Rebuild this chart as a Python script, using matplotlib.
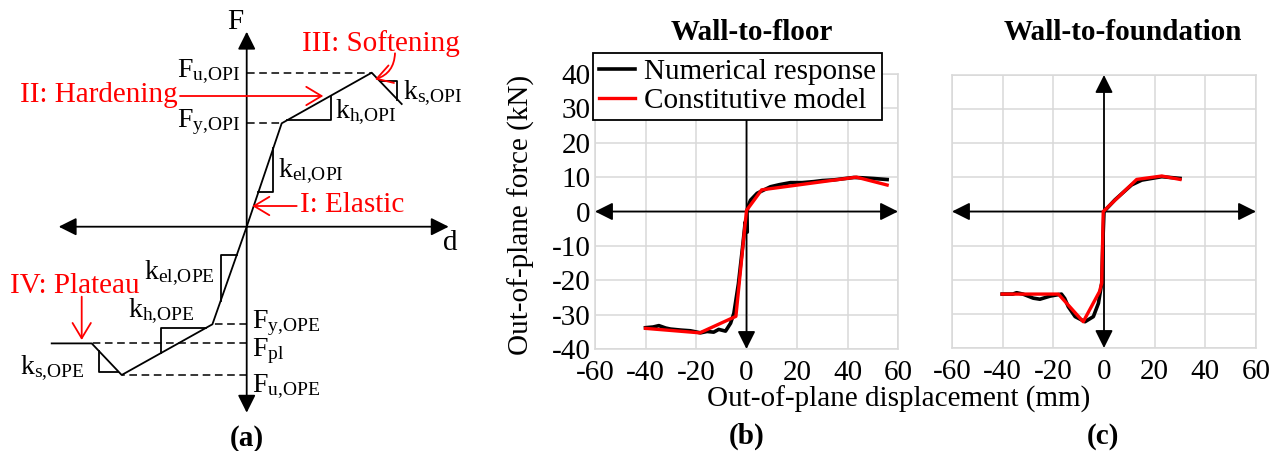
import numpy as np
import matplotlib
matplotlib.use("Agg")
import matplotlib.pyplot as plt

plt.rcParams['font.family'] = ['Liberation Serif', 'DejaVu Serif']
plt.rcParams['mathtext.fontset'] = 'custom'
plt.rcParams['mathtext.rm'] = 'Liberation Serif'
plt.rcParams['mathtext.it'] = 'Liberation Serif:italic'
plt.rcParams['mathtext.bf'] = 'Liberation Serif:bold'

# (a) schematic backbone (arbitrary units, origin at axes cross)
backbone_d = [-195, -155, -125, -34.3, 0, 35, 125, 155]
backbone_f = [-116.7, -116.7, -148.3, -97.6, 0, 103.4, 154, 122.7]

# (b) wall-to-floor
floor_num_x = [-40, -37, -34.7, -32, -30.1, -26, -22.2, -18.2, -15.6, -13, -11, -8.3, -6.3, -5,
               -3.2, -1.5, -0.5, 0.3, 0.2, 0.6, 1.6, 4.2, 9.5, 13, 17.4, 22, 26.7, 30, 34.6,
               38, 42.5, 46, 50.4, 55.7]
floor_num_y = [-33.8, -33.6, -33.2, -33.9, -34.2, -34.5, -34.7, -35.3, -34.9, -35.1, -34.3, -34.8, -32.5, -29.6,
               -21, -10, -3, -6, 0, 1.5, 3.3, 5.3, 7.2, 7.8, 8.4, 8.4, 8.7, 9.0, 9.2,
               9.5, 9.9, 9.8, 9.6, 9.3]
floor_mod_x = [-40, -18.5, -4.2, 0, 6, 43.5, 55.7]
floor_mod_y = [-34, -35.3, -30.5, 0.3, 6.3, 10, 7.7]

# (c) wall-to-foundation
found_num_x = [-40.2, -36, -34.5, -32, -27.9, -25.3, -21.3, -16.8, -15.5, -14.1, -11.4, -7.5, -4.2, -2.2,
               -0.9, -0.4, 0, 4.3, 10.9, 14.9, 22.8, 30]
found_num_y = [-24.2, -24.2, -23.8, -24.2, -25.4, -25.7, -24.8, -24.2, -25.5, -27.9, -30.8, -32.3, -30.8, -26.9,
               -21, -8, 0, 3.4, 7.8, 9.2, 10.2, 9.7]
found_mod_x = [-40.2, -18, -8.2, -1.8, -0.9, -0.3, 12.9, 22.8, 30]
found_mod_y = [-24.2, -24.2, -32.3, -23.5, -21, 0, 9.4, 10.4, 9.4]

x_ticks = [-60, -40, -20, 0, 20, 40, 60]
y_ticks = [-40, -30, -20, -10, 0, 10, 20, 30, 40]

W, H = 1280, 451
fig = plt.figure(figsize=(12.8, 4.51), dpi=100)

def f_at(x):
    return np.interp(x, backbone_d, backbone_f)

# ---------------- panel (a) ----------------
ax_a = fig.add_axes([0, 0, 490 / W, 1])
ax_a.set_xlim(-246.7, 243.3)
ax_a.set_ylim(-224.3, 226.7)
ax_a.axis('off')

head = dict(arrowstyle='-|>,head_length=0.4,head_width=0.2', color='black', lw=1.3,
            mutation_scale=27, shrinkA=0, shrinkB=0)
for tip in [(202, 0), (-188, 0), (0, 195), (0, -186)]:
    ax_a.annotate('', xy=tip, xytext=(0, 0), arrowprops=head)

ax_a.plot(backbone_d, backbone_f, color='black', lw=1.3, zorder=3)

# dashed reference levels
dash = dict(color='black', lw=1.1, linestyle=(0, (5, 3)))
for i in [1, 2, 3, 5, 6]:
    ax_a.plot([0, backbone_d[i]], [backbone_f[i]] * 2, **dash)

# slope triangles
for x0, x1 in [(11.7, 26.7), (40, 84.3), (133.3, 150.7), (-10, -26), (-41, -86), (-128.3, -147.7)]:
    ax_a.plot([x0, x1, x1], [f_at(x0), f_at(x0), f_at(x1)], color='black', lw=1.3)

labels = [
    (r'F$_{\rm u{,}OPI}$', -6.7, 149.3, 'right'),
    (r'F$_{\rm y{,}OPI}$', -6.7, 99.3, 'right'),
    (r'k$_{\rm h{,}OPI}$', 88.3, 108.3, 'left'),
    (r'k$_{\rm s{,}OPI}$', 156, 127.3, 'left'),
    (r'k$_{\rm el{,}OPI}$', 31.6, 50, 'left'),
    (r'k$_{\rm el{,}OPE}$', -31.7, -52.7, 'right'),
    (r'k$_{\rm h{,}OPE}$', -118.3, -90, 'left'),
    (r'k$_{\rm s{,}OPE}$', -226.7, -147.3, 'left'),
    (r'F$_{\rm y{,}OPE}$', 5, -101.7, 'left'),
    (r'F$_{\rm pl}$', 5, -129.3, 'left'),
    (r'F$_{\rm u{,}OPE}$', 5, -165, 'left'),
]
for txt, x, y, ha in labels:
    ax_a.text(x, y, txt, fontsize=20, ha=ha, va='baseline')
ax_a.text(-11.7, 205, 'F', fontsize=21, ha='center', va='center')
ax_a.text(203.3, -16.7, 'd', fontsize=21, ha='center', va='center')
ax_a.text(0, -219.3, '(a)', fontsize=21, fontweight='bold', ha='center', va='baseline')

red = '#ff0000'
for txt, x, y in [('I: Elastic', 53.3, 14.3), ('II: Hardening', -226.7, 125),
                  ('III: Softening', 55, 176), ('IV: Plateau', -236.7, -66)]:
    ax_a.text(x, y, txt, fontsize=21, color=red, ha='left', va='baseline')
rarrow = dict(arrowstyle='->,head_length=0.5,head_width=0.3', color=red, lw=1.3,
              mutation_scale=22, shrinkA=0, shrinkB=0)
ax_a.annotate('', xy=(5.6, 20.7), xytext=(50, 20.7), arrowprops=rarrow)
ax_a.annotate('', xy=(76.6, 130.7), xytext=(-66.7, 130.7), arrowprops=rarrow)
ax_a.annotate('', xy=(-165, -113.3), xytext=(-165, -70), arrowprops=rarrow)
ax_a.annotate('', xy=(128.3, 147.4), xytext=(148.3, 173.4),
              arrowprops=dict(rarrow, connectionstyle='arc3,rad=-0.35'))

# ---------------- panels (b) and (c) ----------------
grid_c = '#d9d9d9'

def setup(ax, show_y):
    ax.set_xlim(-60, 60)
    ax.set_ylim(-40, 40)
    ax.set_xticks(x_ticks)
    ax.set_yticks(y_ticks)
    ax.grid(True, color=grid_c, lw=1.1, zorder=0)
    ax.set_axisbelow(True)
    for s in ax.spines.values():
        s.set_color(grid_c)
        s.set_linewidth(1.1)
    ax.tick_params(length=0, labelsize=21)
    ax.tick_params(axis='x', pad=8)
    ax.tick_params(axis='y', pad=3)
    ax.set_xticklabels([str(v) for v in x_ticks])
    if show_y:
        ax.set_yticklabels([str(v) for v in y_ticks])
    else:
        ax.set_yticklabels([])
    arr = dict(arrowstyle='<|-|>,head_length=0.4,head_width=0.2', color='black', lw=1.3,
               mutation_scale=27, shrinkA=0, shrinkB=0)
    ax.annotate('', xy=(60, 0), xytext=(-60, 0), arrowprops=arr, zorder=2)
    ax.annotate('', xy=(0, -40), xytext=(0, 40), arrowprops=arr, zorder=2)

ax_b = fig.add_axes([595 / W, (H - 349) / H, 303 / W, 275 / H])
setup(ax_b, True)
ax_b.plot(floor_num_x, floor_num_y, color='black', lw=2.6, zorder=3, label='Numerical response')
ax_b.plot(floor_mod_x, floor_mod_y, color=red, lw=2.4, zorder=4, label='Constitutive model')
leg = ax_b.legend(loc='upper left', bbox_to_anchor=(592.7 / W, 1 - 52.7 / H),
                  bbox_transform=fig.transFigure, borderaxespad=0, fontsize=21,
                  fancybox=False, framealpha=1, edgecolor='black', handlelength=1.25,
                  handletextpad=0.3, borderpad=0.2, labelspacing=0.1)
leg.get_frame().set_linewidth(1.3)
leg.set_zorder(10)

ax_c = fig.add_axes([952 / W, (H - 348) / H, 304 / W, 273 / H])
setup(ax_c, False)
ax_c.plot(found_num_x, found_num_y, color='black', lw=2.6, zorder=3)
ax_c.plot(found_mod_x, found_mod_y, color=red, lw=2.4, zorder=4)

fig.text(751.7 / W, 1 - 33 / H, 'Wall-to-floor', fontsize=21, fontweight='bold', ha='center', va='center')
fig.text(1123 / W, 1 - 33 / H, 'Wall-to-foundation', fontsize=21, fontweight='bold', ha='center', va='center')
fig.text(521.7 / W, 1 - 215 / H, 'Out-of-plane force (kN)', fontsize=21, rotation=90, ha='center', va='center')
fig.text(899 / W, 1 - 399 / H, 'Out-of-plane displacement (mm)', fontsize=21, ha='center', va='center')
fig.text(746.7 / W, 1 - 436 / H, '(b)', fontsize=21, fontweight='bold', ha='center', va='center')
fig.text(1103 / W, 1 - 436 / H, '(c)', fontsize=21, fontweight='bold', ha='center', va='center')

fig.savefig('out.png', dpi=100)
